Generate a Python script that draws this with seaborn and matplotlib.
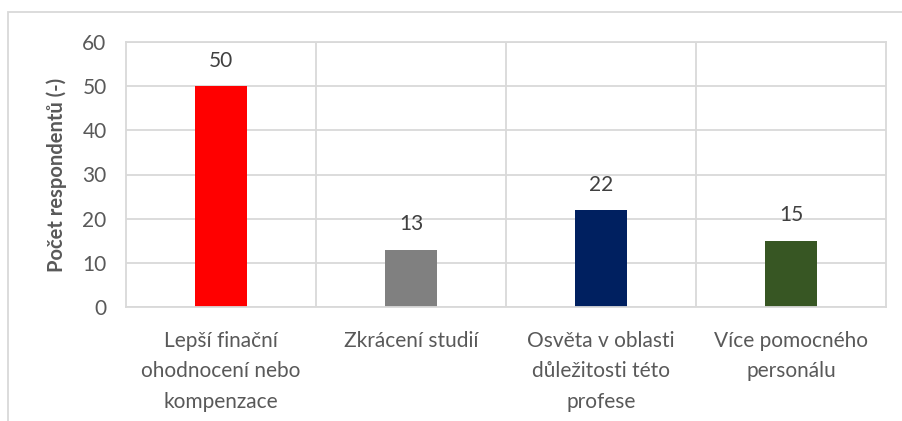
import matplotlib
matplotlib.use("Agg")
import matplotlib.pyplot as plt
import seaborn as sns
import pandas as pd
from matplotlib.patches import Rectangle

categories = ["Lepší finační\nohodnocení nebo\nkompenzace", "Zkrácení studií",
              "Osvěta v oblasti\ndůležitosti této\nprofese", "Více pomocného\npersonálu"]
values = [50, 13, 22, 15]
colors = ["#FF0000", "#808080", "#002060", "#375623"]
y_ticks = [0, 10, 20, 30, 40, 50, 60]
y_label = "Počet respondentů (-)"

sns.set_theme(style="white")
plt.rcParams['font.family'] = ['Lato', 'DejaVu Sans']

df = pd.DataFrame({"cat": categories, "val": values})

fig = plt.figure(figsize=(9.03, 4.21), dpi=100)
ax = fig.add_axes([126/903, 1 - 307/421, (886-126)/903, (307-42)/421])

sns.barplot(data=df, x="cat", y="val", hue="cat", palette=colors, legend=False,
            width=0.27, ax=ax, saturation=1, linewidth=0)

ax.set_xlim(-0.5, 3.5)
ax.set_ylim(0, 60)
ax.set_yticks(y_ticks)
ax.set_xticks([0.5, 1.5, 2.5], minor=True)
ax.grid(True, axis="y", which="major", color="#D9D9D9", linewidth=1.3)
ax.grid(True, axis="x", which="minor", color="#D9D9D9", linewidth=1.3)
ax.set_axisbelow(True)
for s in ax.spines.values():
    s.set_visible(True)
    s.set_color("#D9D9D9")
    s.set_linewidth(1.3)

ax.tick_params(axis="both", which="both", length=0)
ax.tick_params(axis="y", labelsize=15, labelcolor="#595959", pad=14)
ax.tick_params(axis="x", labelsize=15, labelcolor="#595959", pad=17)
for lbl in ax.get_xticklabels():
    lbl.set_linespacing(1.68)
    lbl.set_verticalalignment("top")

ax.set_xlabel("")
ax.set_ylabel(y_label, fontsize=14.5, fontweight="bold", color="#595959", labelpad=11)

for i, v in enumerate(values):
    ax.annotate(str(v), (i, v), xytext=(0, 11), textcoords="offset points",
                ha="center", va="bottom", fontsize=15, color="#404040")

fig.patches.append(Rectangle((8/903, -0.1), 1.2, 1 - 12/421 + 0.1, transform=fig.transFigure,
                             fill=False, edgecolor="#D9D9D9", linewidth=1.3))

fig.savefig("out.png", dpi=100, facecolor="white")
